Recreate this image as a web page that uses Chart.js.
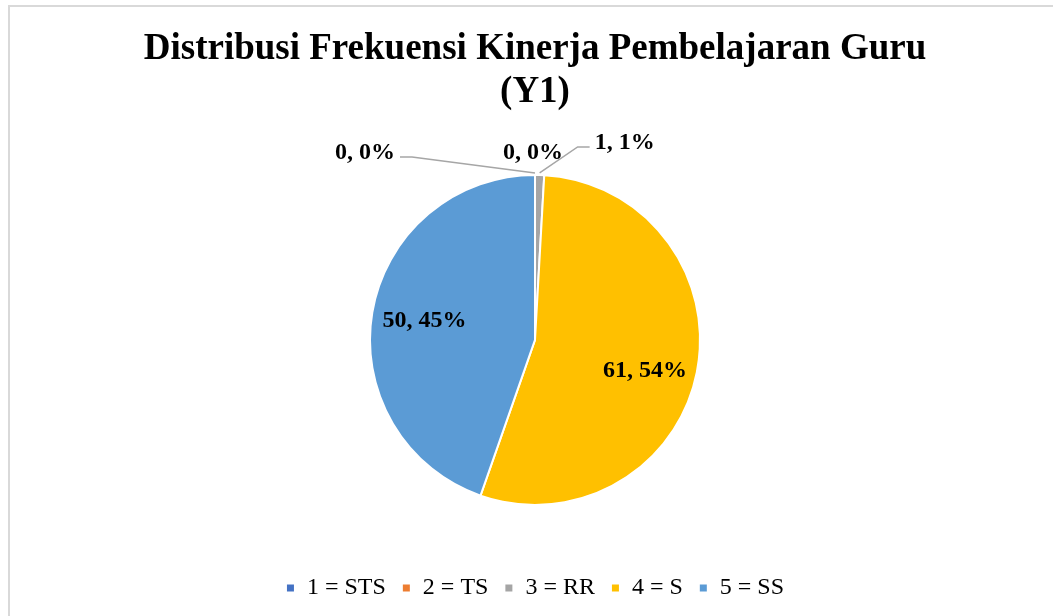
<!DOCTYPE html>
<html>
<head>
<meta charset="utf-8">
<script src="https://cdn.jsdelivr.net/npm/chart.js@4.4.1/dist/chart.umd.min.js"></script>
<style>
    html, body { margin: 0; padding: 0; background: #fff; overflow: hidden; }
    #frame { position: absolute; left: 8px; top: 5px; width: 2000px; height: 2000px; border-left: 2px solid #d9d9d9; border-top: 2px solid #d9d9d9; }
    #wrap { position: absolute; left: 0; top: 0; width: 1053px; height: 616px; }
</style>
</head>
<body>
<div id="frame"></div>
<div id="wrap"><canvas id="pieY1"></canvas></div>
<script>
const categories = ['1 = STS', '2 = TS', '3 = RR', '4 = S', '5 = SS']
const counts = [0, 0, 1, 61, 50]
const colors = ['#4472C4', '#ED7D31', '#A5A5A5', '#FFC000', '#5B9BD5']
const titleLines = ['Distribusi Frekuensi Kinerja Pembelajaran Guru', '(Y1)']

const serif = "'Liberation Serif', 'Times New Roman', serif"

// labels "value, pct%" — inside for big slices, outside with leader line for the tiny ones
const pieLabels = {
    id: 'pieLabels',
    afterDatasetsDraw(chart, args, opts) {
        const ctx = chart.ctx
        const meta = chart.getDatasetMeta(0)
        const data = chart.data.datasets[0].data
        const total = data.reduce((a, b) => a + b, 0)
        ctx.save()
        ctx.font = 'bold 24px ' + serif
        ctx.fillStyle = '#000'
        ctx.textAlign = 'center'
        ctx.textBaseline = 'middle'
        meta.data.forEach((arc, i) => {
            const p = arc.getProps(['x', 'y', 'startAngle', 'endAngle', 'outerRadius'], true)
            const mid = (p.startAngle + p.endAngle) / 2
            const txt = data[i] + ', ' + Math.round(data[i] / total * 100) + '%'
            const off = opts.outside[i]
            if (!off) {
                const r = p.outerRadius * 0.68
                const nudge = opts.inside[i] || [0, 0]
                ctx.fillText(txt, p.x + Math.cos(mid) * r + nudge[0], p.y + Math.sin(mid) * r + nudge[1])
                return
            }
            const ax = p.x + Math.cos(mid) * p.outerRadius
            const ay = p.y + Math.sin(mid) * p.outerRadius
            const lx = ax + off[0]
            const ly = ay + off[1]
            ctx.fillText(txt, lx, ly)
            if (Math.abs(off[0]) > 20) {
                const w = ctx.measureText(txt).width
                const dir = off[0] < 0 ? 1 : -1
                const ex = lx + dir * (w / 2 + 5)
                ctx.strokeStyle = '#A6A6A6'
                ctx.lineWidth = 1.5
                ctx.beginPath()
                ctx.moveTo(ex, ly + 4)
                ctx.lineTo(ex + dir * 12, ly + 4)
                ctx.lineTo(ax, ay - 2)
                ctx.stroke()
            }
        })
        ctx.restore()
    }
}

new Chart(document.getElementById('pieY1'), {
    type: 'pie',
    data: {
        labels: categories,
        datasets: [
            {
                data: counts,
                backgroundColor: colors,
                borderColor: '#fff',
                borderWidth: 2,
                radius: 165
            }
        ]
    },
    options: {
        responsive: true,
        maintainAspectRatio: false,
        animation: false,
        layout: { padding: { left: 17, right: 0, top: 22, bottom: 6 } },
        plugins: {
            title: {
                display: true,
                text: titleLines,
                color: '#000',
                font: { family: serif, size: 37, weight: 'bold', lineHeight: 1.16 },
                padding: { top: 6, bottom: 6 }
            },
            legend: {
                position: 'bottom',
                labels: {
                    color: '#000',
                    font: { family: serif, size: 24 },
                    usePointStyle: true,
                    pointStyle: 'rect',
                    boxWidth: 9,
                    boxHeight: 9,
                    padding: 16
                }
            },
            tooltip: { enabled: false },
            pieLabels: {
                outside: [[-170, -22], [-2, -22], [85, -32], null, null],
                inside: [null, null, null, [0, 9], [0, 0]]
            }
        }
    },
    plugins: [pieLabels]
})
</script>
</body>
</html>
